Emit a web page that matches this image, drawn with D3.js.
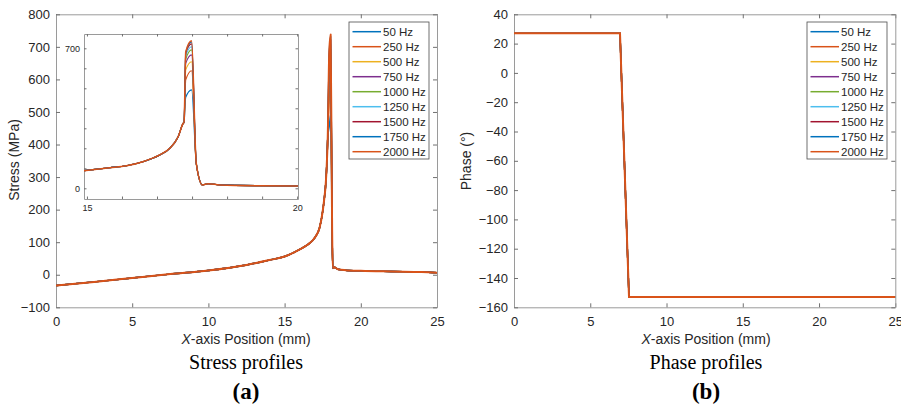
<!DOCTYPE html>
<html lang="en">
<head>
<meta charset="utf-8">
<script src="https://cdn.jsdelivr.net/npm/d3@7"></script>
<style>
  body { margin: 0; background: #fff; }
  svg text { font-family: "Liberation Sans", Arial, sans-serif; fill: #262626; }
  .ax .domain { stroke: #9a9a9a; }
  .ax .tick line { stroke: #707070; }
  .cap { font-family: "Liberation Serif", "Times New Roman", serif !important; fill: #000 !important; }
</style>
</head>
<body>
<svg id="fig" width="901" height="406"></svg>
<script>
// ---- data ----
var series = ['50 Hz', '250 Hz', '500 Hz', '750 Hz', '1000 Hz', '1250 Hz', '1500 Hz', '1750 Hz', '2000 Hz'];
var colors = ['#0072BD', '#D95319', '#EDB120', '#7E2F8E', '#77AC30', '#4DBEEE', '#A2142F', '#0072BD', '#D95319'];

// the two top nodes of the stress spike, one value per frequency (MPa)
var peakA = [455, 542, 592, 625, 645, 662, 675, 680, 683];
var peakB = [492, 588, 633, 667, 692, 708, 722, 732, 738];

// main stress profile, shared by all frequencies except the spike
var mainPreX = [0, 2.5, 5, 7.5, 10, 12.5, 14, 15, 16, 16.5, 17, 17.3, 17.5, 17.6, 17.7, 17.76, 17.83];
var mainPreY = [-33, -22, -10, 2, 13, 30, 45, 56, 78, 92, 115, 145, 195, 232, 280, 330, 420];
var mainPeakX = [17.93, 18.02];
var mainPostX = [18.12, 18.16, 18.25, 18.5, 19, 20, 22, 24, 25];
var mainPostY = [130, 20, 23, 17, 14, 12, 10, 8.5, 6.5];

// inset (zoom on 15..20)
var insetPreX = [14.92, 15.54, 15.94, 16.33, 16.73, 16.97, 17.17, 17.29, 17.31];
var insetPreY = [88, 103, 113, 133, 167, 200, 258, 325, 330];
var insetPeakX = [17.35, 17.49];
var insetPostX = [17.6, 17.75, 17.88, 18.16, 19.11, 20.02];
var insetPostY = [125, 17, 23, 17, 13, 12];

// phase profile (identical for every frequency)
var phaseX = [0, 6.95, 7.54, 25];
var phaseY = [27, 27, -153, -153];

// ---- helpers ----
var svg = d3.select('#fig');
var last = series.length - 1;

function build(preX, preY, pkX, postX, postY, i) {
  var pts = preX.map(function(d, k) { return [d, preY[k]]; });
  pts.push([pkX[0], peakA[i]], [pkX[1], peakB[i]]);
  postX.forEach(function(d, k) { pts.push([d, postY[k]]); });
  return pts;
}

function frame(x, y, o) {
  var x0 = x.range()[0], x1 = x.range()[1], y0 = y.range()[0], y1 = y.range()[1];
  var g = svg.append('g');
  g.append('rect').attr('x', x0).attr('y', y1).attr('width', x1 - x0).attr('height', y0 - y1)
    .attr('fill', '#fff');
  g.append('g').attr('class', 'ax').attr('transform', 'translate(0,' + y0 + ')')
    .call(d3.axisBottom(x).tickValues(o.xt).tickSize(-o.ts).tickSizeOuter(0).tickPadding(o.xp).tickFormat(o.xf))
    .selectAll('text').style('font-size', o.fs + 'px');
  g.append('g').attr('class', 'ax').attr('transform', 'translate(0,' + y1 + ')')
    .call(d3.axisTop(x).tickValues(o.xt).tickSize(-o.ts).tickSizeOuter(0).tickFormat(''));
  g.append('g').attr('class', 'ax').attr('transform', 'translate(' + x0 + ',0)')
    .call(d3.axisLeft(y).tickValues(o.yt).tickSize(-o.ts).tickSizeOuter(0).tickPadding(o.yp).tickFormat(o.yf))
    .selectAll('text').style('font-size', o.fs + 'px');
  g.append('g').attr('class', 'ax').attr('transform', 'translate(' + x1 + ',0)')
    .call(d3.axisRight(y).tickValues(o.yt).tickSize(-o.ts).tickSizeOuter(0).tickFormat(''));
  g.selectAll('.domain').attr('stroke-width', 1);
  return g;
}

function clip(id, x, y) {
  svg.append('clipPath').attr('id', id).append('rect')
    .attr('x', x.range()[0]).attr('y', y.range()[1])
    .attr('width', x.range()[1] - x.range()[0]).attr('height', y.range()[0] - y.range()[1]);
}

function legend(bx, by) {
  var lg = svg.append('g');
  lg.append('rect').attr('x', bx).attr('y', by).attr('width', 80).attr('height', 137)
    .attr('fill', '#fff').attr('stroke', '#4d4d4d').attr('stroke-width', 0.8);
  series.forEach(function(s, i) {
    var yy = by + 9.7 + i * 15;
    lg.append('line').attr('x1', bx + 3.5).attr('x2', bx + 32).attr('y1', yy).attr('y2', yy)
      .attr('stroke', colors[i]).attr('stroke-width', 1.5);
    lg.append('text').attr('x', bx + 34).attr('y', yy).attr('dy', '0.36em')
      .style('font-size', '11.5px').text(s);
  });
}

function captions(cx, title, tag) {
  var t = svg.append('text').attr('x', cx).attr('y', 344).attr('text-anchor', 'middle').style('font-size', '14px');
  t.append('tspan').style('font-style', 'italic').text('X');
  t.append('tspan').text('-axis Position (mm)');
  svg.append('text').attr('class', 'cap').attr('x', cx).attr('y', 369).attr('text-anchor', 'middle')
    .style('font-size', '20px').text(title);
  svg.append('text').attr('class', 'cap').attr('x', cx).attr('y', 399).attr('text-anchor', 'middle')
    .style('font-size', '23px').style('font-weight', 'bold').text(tag);
}

// ---- (a) stress ----
var xa = d3.scaleLinear().domain([0, 25]).range([56, 437]);
var ya = d3.scaleLinear().domain([-100, 800]).range([307.3, 14.3]);
frame(xa, ya, { xt: d3.range(0, 26, 5), yt: d3.range(-100, 801, 100), ts: 4, xp: 9, yp: 6, fs: 13,
  xf: d3.format('d'), yf: d3.format('d') });
clip('ca', xa, ya);
var lineA = d3.line().curve(d3.curveMonotoneX)
  .x(function(d) { return xa(d[0]); }).y(function(d) { return ya(d[1]); });
series.forEach(function(s, i) {
  svg.append('path').attr('clip-path', 'url(#ca)')
    .datum(build(mainPreX, mainPreY, mainPeakX, mainPostX, mainPostY, i))
    .attr('d', lineA).attr('fill', 'none').attr('stroke', colors[i])
    .attr('stroke-width', i === last ? 2 : 1.4).attr('stroke-linejoin', 'round');
});
svg.append('text').attr('transform', 'translate(19,160) rotate(-90)').attr('text-anchor', 'middle')
  .style('font-size', '14px').text('Stress (MPa)');
captions(246, 'Stress profiles', '(a)');

// inset
var xi = d3.scaleLinear().domain([14.93, 20.02]).range([84, 298]);
var yi = d3.scaleLinear().domain([-53.5, 771.5]).range([199, 34]);
var ixt = d3.range(7).map(function(k) { return 15 + k * 5 / 6; });
frame(xi, yi, { xt: ixt, yt: d3.range(0, 701, 100), ts: 2.5, xp: 6, yp: 4, fs: 9,
  xf: function(d) { var r = Math.round(d * 1000) / 1000; return (r === 15 || r === 20) ? r : ''; },
  yf: function(d) { return (d === 0 || d === 700) ? d : ''; } });
clip('ci', xi, yi);
var lineI = d3.line().curve(d3.curveMonotoneX)
  .x(function(d) { return xi(d[0]); }).y(function(d) { return yi(d[1]); });
series.forEach(function(s, i) {
  svg.append('path').attr('clip-path', 'url(#ci)')
    .datum(build(insetPreX, insetPreY, insetPeakX, insetPostX, insetPostY, i))
    .attr('d', lineI).attr('fill', 'none').attr('stroke', colors[i])
    .attr('stroke-width', i === last ? 1.5 : 1.1).attr('stroke-linejoin', 'round');
});
legend(349, 22);

// ---- (b) phase ----
var xb = d3.scaleLinear().domain([0, 25]).range([514, 895.3]);
var yb = d3.scaleLinear().domain([-160, 40]).range([307.3, 14.3]);
frame(xb, yb, { xt: d3.range(0, 26, 5), yt: d3.range(-160, 41, 20), ts: 4, xp: 9, yp: 6, fs: 13,
  xf: d3.format('d'), yf: d3.format('d') });
clip('cb', xb, yb);
var lineB = d3.line().x(function(d) { return xb(d[0]); }).y(function(d) { return yb(d[1]); });
series.forEach(function(s, i) {
  svg.append('path').attr('clip-path', 'url(#cb)')
    .datum(phaseX.map(function(d, k) { return [d, phaseY[k]]; }))
    .attr('d', lineB).attr('fill', 'none').attr('stroke', colors[i])
    .attr('stroke-width', i === last ? 2 : 1.4);
});
svg.append('text').attr('transform', 'translate(471,161) rotate(-90)').attr('text-anchor', 'middle')
  .style('font-size', '14px').text('Phase (°)');
captions(706, 'Phase profiles', '(b)');
legend(807, 22);
</script>
</body>
</html>
